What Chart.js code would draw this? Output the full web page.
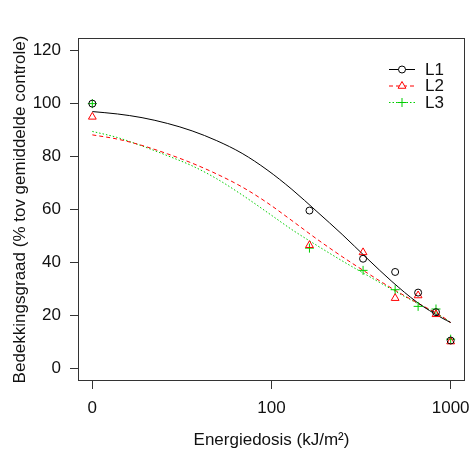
<!DOCTYPE html>
<html>
<head>
<meta charset="utf-8">
<script src="https://cdn.jsdelivr.net/npm/chart.js@4"></script>
<style>
  html, body { margin: 0; padding: 0; background: #fff; }
</style>
</head>
<body>
<canvas id="c" width="474" height="453"></canvas>
<script>
// measured doses (kJ/m2) and observed cover (% of mean control)
const doses = [0, 166.7, 333.3, 500, 666.7, 833.3, 1000];
const l1Points = [100, 59.6, 41.4, 36.4, 28.6, 21.2, 10.5];
const l2Points = [95, 46.5, 43.8, 26.5, 27.5, 20.4, 10.1];
const l3Points = [100, 45.4, 37, 29.7, 23.4, 22.4, 11];

// fitted curves
const curveDoses = [0, 4.5, 10.5, 19, 30, 45, 66, 94, 132, 184, 255, 350, 480, 657, 898, 1000];
const l1Curve = [97, 96.1, 94.7, 92.5, 89.7, 86, 81.2, 75, 67.6, 59.2, 50.6, 41.6, 32.8, 25, 19, 17.3];
const l2Curve = [88.2, 86.6, 84.2, 81, 77.5, 73.4, 68.5, 62.6, 55.8, 48.8, 42.2, 36.1, 30.2, 24.8, 19.6, 17.3];
const l3Curve = [89.5, 87.2, 84, 80.3, 76.5, 71.6, 65.5, 59, 52.4, 46.4, 40.6, 35.2, 29.8, 24.6, 19.5, 17.3];

const seriesNames = ['L1', 'L2', 'L3'];
const xTickValues = [0, 100, 1000];
const xTickLabels = ['0', '100', '1000'];
const yTickValues = [0, 20, 40, 60, 80, 100, 120];

// dose axis is log(dose + 12.5)
const SHIFT = 12.5;
function tx(d) { return Math.log10(d + SHIFT); }

const xlo = tx(0), xhi = tx(1000), xr = xhi - xlo;
const ylo = 0, yhi = 120, yr = yhi - ylo;

const black = '#000000';
const red = '#FF0000';
const green = '#00CD00';

const pts = (ys) => doses.map((d, i) => ({ x: tx(d), y: ys[i] }));
const crv = (ys) => curveDoses.map((d, i) => ({ x: tx(d), y: ys[i] }));

const styles = [
  { color: black, dash: [], point: 'circle', radius: 3.5 },
  { color: red, dash: [4, 3], point: 'triangle', radius: 4.5 },
  { color: green, dash: [1.5, 2], point: 'cross', radius: 4.5 }
];

Chart.defaults.font.family = '"Liberation Sans", Arial, sans-serif';
Chart.defaults.font.size = 17;
Chart.defaults.color = '#111';

const boxAndLegend = {
  id: 'boxAndLegend',
  afterDraw(chart) {
    const { ctx, chartArea: a } = chart;
    ctx.save();
    ctx.strokeStyle = '#333';
    ctx.lineWidth = 1;
    ctx.strokeRect(Math.round(a.left) + 0.5, Math.round(a.top) + 0.5,
      Math.round(a.right - a.left) - 1, Math.round(a.bottom - a.top) - 1);

    // legend, top right inside the plot
    const x0 = 389, x1 = 415, tx0 = 425;
    const rows = [69, 85.5, 102];
    seriesNames.forEach((name, i) => {
      const s = styles[i], y = rows[i];
      ctx.strokeStyle = s.color;
      ctx.lineWidth = 1;
      ctx.setLineDash(s.dash);
      ctx.beginPath();
      ctx.moveTo(x0, y + 0.5);
      ctx.lineTo(x1, y + 0.5);
      ctx.stroke();
      ctx.setLineDash([]);
      ctx.fillStyle = '#fff';
      Chart.helpers.drawPoint(ctx, {
        pointStyle: s.point, radius: s.radius, borderWidth: 1, rotation: 0
      }, (x0 + x1) / 2, y + 0.5);
      ctx.fillStyle = '#111';
      ctx.font = '17px "Liberation Sans", Arial, sans-serif';
      ctx.textBaseline = 'middle';
      ctx.textAlign = 'left';
      ctx.fillText(name, tx0, y + 1);
    });
    ctx.restore();
  }
};

const pointSets = [l1Points, l2Points, l3Points].map((ys, i) => ({
  label: seriesNames[i] + ' data',
  data: pts(ys),
  showLine: false,
  pointStyle: styles[i].point,
  pointRadius: styles[i].radius,
  pointBorderWidth: 1,
  pointBorderColor: styles[i].color,
  pointBackgroundColor: 'rgba(0,0,0,0)',
  pointHoverRadius: styles[i].radius
}));

const curveSets = [l1Curve, l2Curve, l3Curve].map((ys, i) => ({
  label: seriesNames[i],
  data: crv(ys),
  showLine: true,
  borderColor: styles[i].color,
  borderWidth: 1,
  borderDash: styles[i].dash,
  pointRadius: 0,
  fill: false,
  cubicInterpolationMode: 'monotone'
}));

new Chart(document.getElementById('c'), {
  type: 'scatter',
  data: { datasets: [...pointSets, ...curveSets] },
  plugins: [boxAndLegend],
  options: {
    responsive: false,
    animation: false,
    layout: { autoPadding: false, padding: { top: 38, right: 9, left: 0, bottom: 0 } },
    plugins: { legend: { display: false }, tooltip: { enabled: false } },
    scales: {
      x: {
        type: 'linear',
        min: xlo - 0.04 * xr,
        max: xhi + 0.04 * xr,
        afterBuildTicks: (scale) => { scale.ticks = xTickValues.map(v => ({ value: tx(v) })); },
        afterFit: (scale) => {
          scale.height = 72;
          scale.paddingLeft = 0;
          scale.paddingRight = 0;
        },
        ticks: {
          callback: (v, i) => xTickLabels[i],
          padding: 9,
          maxRotation: 0,
          autoSkip: false,
          color: '#111'
        },
        grid: { drawOnChartArea: false, drawTicks: true, tickLength: 8, color: '#333' },
        border: { display: false },
        title: {
          display: true,
          text: 'Energiedosis (kJ/m²)',
          color: '#111',
          padding: { top: 0, bottom: 2 }
        }
      },
      y: {
        type: 'linear',
        min: ylo - 0.04 * yr,
        max: yhi + 0.04 * yr,
        afterBuildTicks: (scale) => { scale.ticks = yTickValues.map(v => ({ value: v })); },
        afterFit: (scale) => {
          scale.width = 78;
          scale.paddingTop = 0;
          scale.paddingBottom = 0;
        },
        ticks: { padding: 9, color: '#111' },
        grid: { drawOnChartArea: false, drawTicks: true, tickLength: 8, color: '#333' },
        border: { display: false },
        title: {
          display: true,
          text: 'Bedekkingsgraad (% tov gemiddelde controle)',
          color: '#111',
          padding: { top: 10, bottom: 0 }
        }
      }
    }
  }
});
</script>
</body>
</html>
